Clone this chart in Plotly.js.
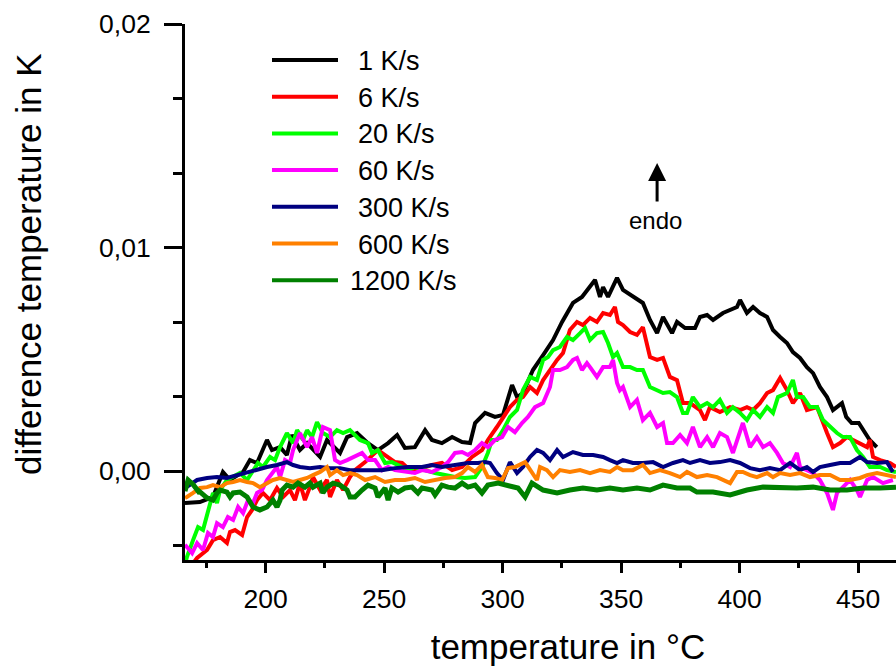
<!DOCTYPE html>
<html>
<head>
<meta charset="utf-8">
<script src="https://cdn.plot.ly/plotly-3.0.1.min.js"></script>
<style>
html,body{margin:0;padding:0;overflow:hidden;background:#fff;}
#chart{width:951px;height:666px;}
</style>
</head>
<body>
<div id="chart"></div>
<script>
// Series names (legend labels) and colours
const seriesNames = ['1 K/s','6 K/s','20 K/s','60 K/s','300 K/s','600 K/s','1200 K/s'];
const seriesColors = ['#000000','#ff0000','#00ff00','#ff00ff','#000080','#ff8000','#008000'];

// [temperature in °C, difference temperature in K]
const rate1 = [[166.0,-0.00143],[172.3,-0.00139],[177.8,-0.00116],[182.0,-0.00004],[185.0,-0.00040],[190.5,-0.00004],[193.4,0.00049],[196.4,0.00036],[200.6,0.00139],[202.7,0.00094],[206.1,0.00107],[209.0,0.00072],[211.1,0.00161],[214.5,0.00094],[217.5,0.00125],[223.0,0.00063],[225.9,0.00139],[231.4,0.00081],[234.4,0.00152],[238.6,0.00170],[243.2,0.00125],[247.4,0.00094],[251.7,0.00125],[255.5,0.00161],[258.8,0.00103],[263.0,0.00107],[267.3,0.00183],[270.2,0.00139],[274.4,0.00125],[278.7,0.00152],[282.9,0.00130],[286.3,0.00125],[288.4,0.00215],[292.6,0.00260],[296.8,0.00242],[300.2,0.00251],[304.0,0.00385],[306.1,0.00331],[308.6,0.00349],[312.8,0.00452],[317.1,0.00519],[321.3,0.00586],[325.1,0.00667],[329.7,0.00752],[333.5,0.00779],[335.6,0.00810],[339.0,0.00855],[341.1,0.00779],[342.4,0.00823],[344.5,0.00779],[348.3,0.00864],[350.8,0.00810],[355.0,0.00779],[359.2,0.00752],[362.2,0.00676],[365.2,0.00617],[367.7,0.00689],[371.5,0.00617],[373.6,0.00667],[377.0,0.00640],[381.2,0.00640],[383.3,0.00689],[386.3,0.00698],[388.8,0.00676],[393.0,0.00707],[396.0,0.00720],[398.9,0.00734],[400.2,0.00765],[403.1,0.00707],[405.7,0.00734],[408.6,0.00707],[411.6,0.00689],[414.1,0.00631],[417.1,0.00600],[420.0,0.00573],[422.5,0.00532],[425.5,0.00506],[428.4,0.00465],[431.0,0.00438],[433.9,0.00376],[436.9,0.00331],[439.4,0.00273],[443.2,0.00304],[445.0,0.00242],[447.3,0.00215],[450.3,0.00215],[452.8,0.00170],[454.9,0.00139],[457.9,0.00107]];

const rate6 = [[166.0,-0.00460],[171.1,-0.00389],[175.3,-0.00353],[177.8,-0.00309],[180.8,-0.00295],[183.7,-0.00322],[185.0,-0.00273],[187.1,-0.00264],[190.1,-0.00286],[192.2,-0.00206],[194.3,-0.00174],[196.4,-0.00130],[198.9,-0.00098],[201.9,-0.00130],[204.8,-0.00076],[207.4,-0.00116],[210.3,-0.00085],[212.4,-0.00130],[214.5,-0.00054],[216.6,-0.00130],[218.7,-0.00072],[220.0,-0.00027],[223.0,-0.00085],[225.9,-0.00040],[227.2,-0.00116],[230.1,-0.00040],[232.7,-0.00085],[235.6,-0.00027],[237.7,0.00004],[242.0,0.00040],[247.4,0.00094],[251.7,0.00063],[254.6,0.00040],[257.6,0.00036],[261.8,-0.00004],[266.0,0.00013],[270.2,0.00027],[274.4,0.00036],[278.7,0.00004],[282.9,0.00018],[287.1,0.00063],[291.3,0.00094],[293.8,0.00139],[297.6,0.00197],[300.2,0.00242],[303.1,0.00286],[306.1,0.00318],[308.6,0.00331],[311.6,0.00376],[314.5,0.00349],[317.1,0.00407],[320.0,0.00452],[323.0,0.00497],[325.5,0.00528],[328.4,0.00631],[331.4,0.00667],[333.9,0.00653],[336.9,0.00685],[339.8,0.00667],[342.4,0.00707],[345.3,0.00698],[347.4,0.00734],[348.7,0.00667],[350.8,0.00653],[353.8,0.00622],[356.7,0.00609],[359.2,0.00644],[362.2,0.00510],[365.2,0.00497],[367.7,0.00506],[370.6,0.00421],[373.6,0.00407],[376.1,0.00304],[379.1,0.00304],[383.3,0.00273],[385.4,0.00228],[387.5,0.00286],[391.7,0.00264],[396.0,0.00286],[400.2,0.00273],[403.1,0.00286],[405.7,0.00273],[408.6,0.00304],[411.6,0.00349],[414.1,0.00362],[417.1,0.00416],[420.0,0.00362],[422.5,0.00304],[425.5,0.00349],[428.4,0.00273],[432.7,0.00286],[436.9,0.00170],[439.4,0.00107],[442.4,0.00125],[445.3,0.00152],[447.9,0.00139],[450.8,0.00125],[453.8,0.00107],[455.0,0.00139],[456.3,0.00063],[459.3,0.00049],[463.5,0.00036],[466.0,0.00018]];

const rate20 = [[166.0,-0.00420],[166.8,-0.00385],[169.4,-0.00309],[171.5,-0.00251],[173.6,-0.00264],[175.7,-0.00174],[177.8,-0.00098],[179.5,-0.00143],[180.8,-0.00085],[183.7,-0.00040],[186.3,-0.00027],[189.2,-0.00009],[192.2,-0.00040],[194.7,0.00004],[196.8,0.00036],[198.9,0.00018],[201.9,0.00063],[204.0,0.00049],[206.1,0.00107],[209.0,0.00170],[211.6,0.00125],[213.3,0.00183],[215.8,0.00139],[217.5,0.00183],[219.6,0.00152],[221.7,0.00219],[224.2,0.00170],[227.2,0.00152],[230.1,0.00183],[232.7,0.00170],[235.6,0.00183],[239.8,0.00139],[243.2,0.00125],[244.9,0.00081],[247.4,0.00094],[250.4,0.00036],[253.3,0.00040],[257.6,0.00018],[260.1,0.00004],[263.0,0.00018],[267.3,0.00004],[271.5,-0.00009],[275.7,-0.00018],[279.9,-0.00027],[284.1,-0.00031],[288.4,-0.00027],[291.3,0.00018],[293.8,0.00081],[295.5,0.00139],[297.6,0.00139],[300.2,0.00183],[303.1,0.00242],[306.1,0.00273],[308.6,0.00362],[311.6,0.00421],[314.5,0.00407],[317.1,0.00497],[319.2,0.00510],[321.3,0.00541],[324.2,0.00555],[327.2,0.00600],[329.7,0.00586],[332.7,0.00617],[334.8,0.00640],[336.9,0.00586],[339.8,0.00617],[342.4,0.00622],[344.5,0.00573],[346.6,0.00510],[348.3,0.00528],[350.8,0.00465],[353.8,0.00465],[356.7,0.00452],[359.2,0.00452],[362.2,0.00376],[365.2,0.00362],[367.7,0.00349],[370.6,0.00353],[373.6,0.00331],[376.1,0.00260],[377.8,0.00260],[380.3,0.00331],[383.3,0.00286],[386.3,0.00304],[388.8,0.00286],[391.7,0.00318],[394.7,0.00260],[397.2,0.00286],[400.2,0.00260],[403.1,0.00228],[405.7,0.00273],[408.6,0.00242],[411.6,0.00286],[414.1,0.00260],[416.2,0.00331],[420.0,0.00349],[422.5,0.00407],[424.2,0.00331],[426.8,0.00331],[429.7,0.00286],[432.7,0.00286],[435.2,0.00228],[438.2,0.00197],[441.1,0.00170],[443.6,0.00152],[446.6,0.00152],[449.5,0.00094],[452.1,0.00063],[455.0,0.00018],[459.3,0.00018],[462.2,0.00004],[466.0,-0.00004]];

const rate60 = [[166.0,-0.00330],[166.8,-0.00340],[169.0,-0.00367],[171.1,-0.00322],[173.6,-0.00353],[175.7,-0.00277],[177.8,-0.00295],[179.5,-0.00233],[182.0,-0.00251],[184.1,-0.00206],[186.3,-0.00219],[188.4,-0.00161],[190.5,-0.00188],[192.6,-0.00130],[194.7,-0.00143],[196.4,-0.00098],[198.5,-0.00085],[200.6,-0.00040],[202.7,-0.00009],[204.8,0.00018],[206.1,-0.00027],[208.2,0.00049],[210.3,0.00036],[211.6,0.00094],[214.5,0.00170],[217.5,0.00107],[219.6,0.00152],[221.7,0.00081],[224.2,0.00197],[227.2,0.00183],[229.3,0.00049],[231.4,0.00036],[234.4,0.00049],[236.9,0.00063],[240.7,0.00081],[243.2,0.00049],[246.2,0.00049],[249.1,0.00004],[251.7,0.00018],[254.6,0.00004],[258.8,-0.00004],[263.0,-0.00009],[266.0,0.00004],[270.2,-0.00004],[274.4,0.00018],[277.0,0.00040],[279.9,0.00081],[282.9,0.00085],[285.4,0.00072],[288.4,0.00094],[291.3,0.00125],[293.8,0.00107],[296.8,0.00139],[299.8,0.00152],[302.3,0.00197],[305.2,0.00174],[308.2,0.00215],[310.7,0.00242],[313.7,0.00286],[317.1,0.00304],[320.0,0.00376],[321.3,0.00452],[324.2,0.00452],[327.2,0.00465],[329.7,0.00497],[331.4,0.00506],[333.5,0.00452],[335.6,0.00483],[336.9,0.00465],[339.8,0.00421],[342.4,0.00465],[345.3,0.00465],[346.6,0.00497],[348.3,0.00394],[349.5,0.00362],[350.8,0.00376],[353.8,0.00286],[356.7,0.00318],[359.2,0.00228],[362.2,0.00260],[365.2,0.00197],[367.7,0.00215],[369.4,0.00125],[371.9,0.00125],[374.9,0.00161],[377.8,0.00125],[380.3,0.00197],[383.3,0.00107],[386.3,0.00152],[388.8,0.00107],[391.7,0.00170],[394.7,0.00152],[397.2,0.00081],[400.2,0.00170],[401.4,0.00215],[404.4,0.00107],[407.3,0.00152],[409.9,0.00107],[412.8,0.00125],[415.8,0.00081],[418.3,0.00036],[421.3,0.00018],[424.2,0.00081],[425.5,0.00018],[428.4,0.00004],[431.0,-0.00009],[433.9,-0.00040],[436.9,-0.00098],[439.4,-0.00174],[441.1,-0.00098],[443.6,-0.00072],[446.6,-0.00040],[449.5,-0.00085],[450.8,-0.00116],[453.8,-0.00040],[456.3,-0.00027],[460.5,-0.00054],[464.7,-0.00040]];

const rate300 = [[166.0,-0.00076],[171.1,-0.00040],[175.3,-0.00031],[179.5,-0.00027],[183.7,-0.00031],[187.9,-0.00018],[192.2,-0.00009],[196.4,0.00004],[200.6,0.00018],[204.8,0.00027],[209.0,0.00040],[211.6,0.00027],[214.5,0.00018],[218.7,0.00013],[223.0,0.00018],[227.2,0.00013],[231.4,0.00013],[235.6,0.00004],[239.8,0.00004],[243.2,0.00004],[249.1,0.00004],[254.6,0.00013],[260.1,0.00018],[266.0,0.00018],[270.2,0.00027],[274.4,0.00018],[279.9,0.00027],[285.4,0.00036],[289.6,0.00036],[292.6,0.00040],[294.7,0.00036],[297.6,-0.00009],[300.2,-0.00040],[303.1,0.00040],[306.1,-0.00009],[308.6,0.00018],[311.6,0.00063],[314.5,0.00094],[317.1,0.00081],[320.0,0.00049],[323.0,0.00094],[325.5,0.00063],[329.7,0.00085],[333.9,0.00072],[338.2,0.00072],[342.4,0.00063],[345.3,0.00049],[348.3,0.00036],[350.8,0.00049],[355.0,0.00036],[359.2,0.00036],[363.5,0.00040],[367.7,0.00018],[371.9,0.00036],[376.1,0.00049],[379.1,0.00036],[383.3,0.00049],[387.5,0.00036],[391.7,0.00040],[396.0,0.00049],[400.2,0.00036],[404.4,0.00013],[408.6,0.00004],[412.8,0.00013],[417.1,0.00004],[421.3,0.00036],[425.5,0.00004],[428.4,0.00018],[431.0,-0.00004],[433.9,0.00018],[438.2,0.00027],[442.4,0.00036],[446.6,0.00036],[450.8,0.00063],[453.8,0.00040],[458.0,0.00036],[462.2,0.00040],[464.7,-0.00004]];

const rate600 = [[166.0,-0.00120],[166.8,-0.00116],[169.4,-0.00098],[172.3,-0.00076],[175.3,-0.00072],[177.8,-0.00063],[180.8,-0.00072],[183.7,-0.00054],[186.3,-0.00049],[189.2,-0.00040],[192.2,-0.00049],[194.7,-0.00054],[197.6,-0.00072],[200.6,-0.00054],[203.1,-0.00040],[206.1,-0.00031],[209.0,-0.00040],[211.6,-0.00049],[214.5,-0.00040],[217.5,-0.00031],[220.0,-0.00018],[223.0,-0.00004],[225.9,0.00018],[227.2,-0.00018],[230.1,0.00004],[232.7,-0.00018],[235.6,-0.00009],[238.6,-0.00018],[242.0,-0.00040],[246.2,-0.00027],[250.4,-0.00049],[254.6,-0.00040],[258.8,-0.00040],[263.0,-0.00031],[267.3,-0.00049],[271.5,-0.00040],[275.7,-0.00031],[279.9,-0.00027],[282.9,-0.00009],[285.4,0.00018],[288.4,-0.00004],[291.3,0.00027],[293.8,-0.00027],[296.8,-0.00031],[299.8,-0.00040],[302.3,0.00013],[305.2,0.00018],[309.5,0.00040],[312.4,-0.00009],[314.5,-0.00040],[315.8,0.00018],[318.7,0.00004],[321.3,-0.00027],[324.2,0.00004],[328.4,-0.00004],[332.7,0.00004],[336.9,-0.00009],[341.1,0.00004],[345.3,-0.00004],[348.3,0.00018],[350.8,0.00004],[355.0,0.00004],[359.2,0.00027],[362.2,-0.00009],[366.4,0.00004],[370.6,-0.00009],[374.9,-0.00027],[377.8,-0.00004],[382.0,-0.00027],[386.3,-0.00018],[390.5,-0.00027],[393.0,-0.00040],[396.0,-0.00054],[398.9,-0.00004],[401.4,-0.00004],[404.4,-0.00018],[407.3,-0.00027],[411.6,-0.00009],[414.1,-0.00027],[417.1,-0.00009],[421.3,-0.00018],[425.5,-0.00009],[429.7,-0.00027],[433.9,-0.00018],[438.2,-0.00018],[442.4,-0.00040],[446.6,-0.00040],[450.8,-0.00031],[453.8,-0.00018],[458.0,-0.00009],[462.2,-0.00018],[466.0,-0.00027]];

const rate1200 = [[166.0,-0.00090],[167.3,-0.00040],[169.4,-0.00060],[172.3,-0.00100],[170.8,-0.00080],[175.3,-0.00120],[177.8,-0.00130],[179.5,-0.00098],[180.8,-0.00085],[183.7,-0.00094],[185.0,-0.00116],[186.3,-0.00098],[189.2,-0.00094],[192.2,-0.00116],[194.7,-0.00161],[197.6,-0.00174],[200.6,-0.00161],[203.1,-0.00130],[204.8,-0.00161],[206.1,-0.00130],[207.0,-0.00085],[209.0,-0.00063],[211.6,-0.00072],[213.7,-0.00054],[216.6,-0.00072],[218.7,-0.00054],[220.0,-0.00072],[223.0,-0.00054],[224.2,-0.00098],[225.9,-0.00072],[228.5,-0.00054],[231.4,-0.00063],[234.4,-0.00085],[235.6,-0.00116],[237.7,-0.00116],[240.7,-0.00085],[243.2,-0.00063],[246.2,-0.00076],[247.4,-0.00116],[250.4,-0.00076],[251.7,-0.00130],[253.3,-0.00076],[255.9,-0.00094],[258.8,-0.00076],[261.8,-0.00072],[264.3,-0.00098],[266.0,-0.00076],[270.2,-0.00085],[271.5,-0.00107],[274.4,-0.00063],[277.0,-0.00072],[279.9,-0.00076],[282.9,-0.00054],[285.4,-0.00072],[288.4,-0.00063],[291.3,-0.00098],[293.8,-0.00063],[298.1,-0.00054],[302.3,-0.00063],[306.5,-0.00076],[309.5,-0.00116],[312.4,-0.00054],[317.1,-0.00085],[323.0,-0.00098],[328.4,-0.00085],[333.9,-0.00076],[339.8,-0.00085],[345.3,-0.00076],[350.8,-0.00085],[356.7,-0.00076],[362.2,-0.00085],[367.7,-0.00063],[373.6,-0.00076],[379.1,-0.00076],[382.0,-0.00094],[388.8,-0.00094],[396.0,-0.00107],[403.1,-0.00085],[409.9,-0.00072],[417.1,-0.00076],[424.2,-0.00076],[431.0,-0.00072],[438.2,-0.00085],[445.3,-0.00085],[452.1,-0.00076],[459.3,-0.00076],[466.0,-0.00072]];

const allSeries = [rate1, rate6, rate20, rate60, rate300, rate600, rate1200];

// x-axis tick step; y-axis tick values/labels
const xTickStep = 50;
const yTickVals = [0, 0.01, 0.02];
const yTickText = ['0,00', '0,01', '0,02'];
const xTitle = 'temperature in °C';
const yTitle = 'difference temperature in K';
const endoLabel = 'endo';

const FONT = 'Arial, "Liberation Sans", Helvetica, sans-serif';
const ML = 185, MT = 24, PW = 766, PH = 536;
const px = x => (x - ML) / PW;
const py = y => (MT + PH - y) / PH;

const traces = allSeries.map((s, i) => ({
  type: 'scatter',
  mode: 'lines',
  x: s.map(p => p[0]),
  y: s.map(p => p[1]),
  name: seriesNames[i],
  line: {color: seriesColors[i], width: i === 6 ? 5 : 4},
  showlegend: false,
  hoverinfo: 'skip'
}));

const shapes = [];
const annotations = [];
seriesNames.forEach((n, i) => {
  const yRow = 60 + i * 36.7;
  shapes.push({type: 'line', xref: 'paper', yref: 'paper', x0: px(272), x1: px(338), y0: py(yRow), y1: py(yRow),
    line: {color: seriesColors[i], width: 4}});
  annotations.push({xref: 'paper', yref: 'paper', x: px(i === 6 ? 348 : 356), y: py(yRow + 1), text: n,
    showarrow: false, xanchor: 'left', yanchor: 'middle', font: {family: FONT, size: 27, color: '#000'}});
});
// endo arrow and label
annotations.push({x: 365.2, y: 0.01378, xref: 'x', yref: 'y', ax: 0, ay: 40, text: '', showarrow: true,
  arrowhead: 2, arrowsize: 1.2, arrowwidth: 3, arrowcolor: '#000'});
annotations.push({x: 364.7, y: 0.01119, xref: 'x', yref: 'y', text: endoLabel, showarrow: false,
  font: {family: FONT, size: 24, color: '#000'}});
// y axis title
annotations.push({xref: 'paper', yref: 'paper', x: px(28), y: py(264), text: yTitle, textangle: -90,
  showarrow: false, xanchor: 'center', yanchor: 'middle', font: {family: FONT, size: 35, color: '#000'}});

const layout = {
  width: 951, height: 666,
  margin: {l: ML, r: 0, t: MT, b: 666 - MT - PH, pad: 0},
  paper_bgcolor: '#fff', plot_bgcolor: '#fff',
  separators: ', ',
  font: {family: FONT, color: '#000'},
  showlegend: false,
  xaxis: {
    range: [166, 166 + PW / 2.37],
    showgrid: false, zeroline: false,
    showline: true, linecolor: '#000', linewidth: 3,
    ticks: 'outside', ticklen: 10, tickwidth: 3, tickcolor: '#000',
    tick0: 0, dtick: xTickStep,
    tickfont: {family: FONT, size: 26.5, color: '#000'},
    ticklabelstandoff: 3,
    minor: {ticks: 'outside', dtick: 25, tick0: 0, ticklen: 5, tickwidth: 3, tickcolor: '#000', showgrid: false},
    title: {text: xTitle, font: {family: FONT, size: 35, color: '#000'}, standoff: 22}
  },
  yaxis: {
    range: [-0.00398, 0.02],
    showgrid: false, zeroline: false,
    showline: true, linecolor: '#000', linewidth: 3,
    ticks: 'outside', ticklen: 18, tickwidth: 3, tickcolor: '#000',
    tickmode: 'array', tickvals: yTickVals, ticktext: yTickText,
    tickfont: {family: FONT, size: 26.5, color: '#000'},
    ticklabelstandoff: 8,
    minor: {ticks: 'outside', tickmode: 'array', tickvals: [-0.01/3, 0.01/3, 0.02/3, 0.04/3, 0.05/3], ticklen: 9, tickwidth: 3, tickcolor: '#000', showgrid: false}
  },
  shapes: shapes,
  annotations: annotations
};

Plotly.newPlot('chart', traces, layout, {displayModeBar: false, staticPlot: true});
</script>
</body>
</html>
